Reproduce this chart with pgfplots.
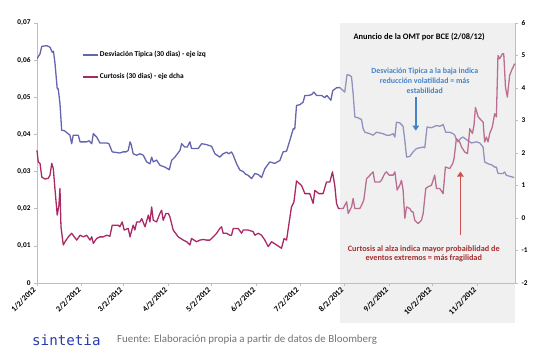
\documentclass[border=0pt]{standalone}
\usepackage{pgfplots}
\pgfplotsset{compat=1.18}
\usepackage{pgfplotstable}
\usetikzlibrary{arrows.meta}
\usepackage{fontspec}
\setmainfont{Carlito}
\newfontfamily\logofont{DejaVu Sans Mono}
\definecolor{serblue}{RGB}{100,100,175}
\definecolor{serred}{RGB}{170,40,100}
\definecolor{boxgray}{RGB}{217,217,217}
\definecolor{annblue}{RGB}{70,130,200}
\definecolor{anntext}{RGB}{165,45,45}
\definecolor{annarrow}{RGB}{205,80,80}
\definecolor{axgray}{RGB}{190,190,190}
\definecolor{logoblue}{RGB}{40,60,170}

\pgfplotstableread{
day val
0 0.0604
2.1 0.0617
3.3 0.0637
6.7 0.0639
9.0 0.0635
10.6 0.0621
11.4 0.0624
12.5 0.0590
14.0 0.0523
14.7 0.0523
15.9 0.0483
17.1 0.0411
19.0 0.0410
22.8 0.0398
24.0 0.0375
25.1 0.0398
28.6 0.0398
29.8 0.0380
34.4 0.0380
36.0 0.0383
37.9 0.0375
39.0 0.0402
41.3 0.0393
43.6 0.0377
48.2 0.0377
49.8 0.0375
52.1 0.0353
57.4 0.0350
59.5 0.0353
61.6 0.0353
63.2 0.0357
64.4 0.0380
65.1 0.0375
66.6 0.0348
69.0 0.0344
71.3 0.0348
73.6 0.0344
75.9 0.0326
78.2 0.0321
79.4 0.0339
80.5 0.0326
82.8 0.0331
85.1 0.0317
88.6 0.0312
91.6 0.0305
93.2 0.0330
95.5 0.0339
99.0 0.0357
100.1 0.0375
102.4 0.0366
104.0 0.0366
105.9 0.0380
107.0 0.0362
111.6 0.0362
114.0 0.0375
117.0 0.0373
120.9 0.0368
123.2 0.0348
126.6 0.0339
128.9 0.0348
131.3 0.0352
132.9 0.0348
134.7 0.0353
135.9 0.0344
138.2 0.0321
140.5 0.0304
142.8 0.0300
144.4 0.0293
146.2 0.0290
148.6 0.0281
150.9 0.0295
153.2 0.0292
155.5 0.0284
157.8 0.0308
161.2 0.0326
164.7 0.0322
168.2 0.0330
170.4 0.0353
172.8 0.0355
175.1 0.0384
177.4 0.0415
178.5 0.0415
179.7 0.0478
182.0 0.0480
184.3 0.0487
185.5 0.0505
187.8 0.0505
190.1 0.0507
191.7 0.0514
193.6 0.0505
197.0 0.0505
199.3 0.0499
200.7 0.0505
203.5 0.0492
204.8 0.0518
207.6 0.0526
209.7 0.0526
213.1 0.0514
214.7 0.0561
216.6 0.0559
217.8 0.0555
218.9 0.0510
220.1 0.0447
222.1 0.0445
224.7 0.0440
225.8 0.0416
227.0 0.0406
230.4 0.0402
232.7 0.0398
235.1 0.0406
237.4 0.0404
239.7 0.0402
242.0 0.0398
244.3 0.0398
246.6 0.0402
247.8 0.0393
248.9 0.0433
251.2 0.0431
253.5 0.0422
254.7 0.0384
255.9 0.0339
258.2 0.0341
260.4 0.0353
262.8 0.0362
265.1 0.0364
267.4 0.0366
268.5 0.0364
270.1 0.0420
273.2 0.0418
276.6 0.0424
278.9 0.0422
280.1 0.0424
281.2 0.0427
283.0 0.0406
285.8 0.0406
288.1 0.0402
289.3 0.0398
290.4 0.0386
291.6 0.0380
293.2 0.0389
295.0 0.0393
297.4 0.0386
299.7 0.0380
300.8 0.0377
304.3 0.0380
306.6 0.0377
308.9 0.0366
310.0 0.0326
312.3 0.0321
314.9 0.0318
316.9 0.0312
318.1 0.0312
319.2 0.0295
322.7 0.0295
323.9 0.0299
325.0 0.0290
328.5 0.0286
330.5 0.0284
}\bluedata

\pgfplotstableread{
day val
0 2.08
0.9 1.72
2.1 1.68
3.3 1.26
5.5 1.20
7.8 1.22
9.0 1.32
10.2 1.68
11.3 1.52
12.5 0.86
14.0 0.09
15.2 0.40
15.9 0.91
16.6 -0.27
18.2 -0.83
19.4 -0.73
21.7 -0.58
24.0 -0.47
27.5 -0.68
29.8 -0.53
32.1 -0.58
34.4 -0.53
36.7 -0.68
37.9 -0.58
39.0 -0.78
41.3 -0.63
43.6 -0.58
45.9 -0.58
48.2 -0.53
50.5 -0.56
52.1 -0.22
56.3 -0.22
57.4 -0.27
59.0 -0.12
60.4 -0.37
63.2 -0.32
64.4 -0.58
66.6 -0.22
67.8 -0.37
69.0 -0.12
71.3 -0.12
72.5 -0.02
74.8 -0.27
77.1 0.09
78.2 -0.12
79.4 0.34
80.5 -0.07
82.8 -0.12
85.1 0.14
86.3 0.24
87.4 -0.07
89.3 0.14
90.9 0.14
92.0 0.04
94.3 -0.37
97.8 -0.58
101.3 -0.68
103.6 -0.73
105.9 -0.83
107.0 -0.63
110.5 -0.73
112.8 -0.68
115.1 -0.66
117.4 -0.68
119.7 -0.68
122.0 -0.58
124.4 -0.47
126.6 -0.32
127.8 -0.27
128.9 -0.47
131.3 -0.47
133.6 -0.53
134.7 -0.53
135.9 -0.32
139.3 -0.32
141.7 -0.47
142.8 -0.37
146.2 -0.37
149.7 -0.42
150.9 -0.53
153.2 -0.47
155.5 -0.53
157.8 -0.68
160.1 -0.88
162.4 -0.73
165.9 -0.83
169.3 -0.93
171.1 -0.63
172.8 -0.68
176.2 0.34
177.9 0.49
179.7 1.14
183.2 1.00
185.5 0.75
188.9 0.75
191.2 0.45
192.4 0.85
195.2 0.75
198.1 0.75
200.5 1.11
202.8 1.11
204.6 1.42
206.2 1.00
207.4 0.45
208.8 0.29
212.0 0.29
214.4 0.50
215.5 0.14
217.8 0.34
218.9 0.60
220.1 0.29
223.5 0.29
224.7 0.39
226.3 0.55
228.2 1.21
230.4 1.31
232.7 1.42
233.9 1.11
237.4 1.11
238.5 1.16
240.8 1.37
242.0 1.42
243.8 1.32
246.6 1.32
247.8 1.42
249.4 0.86
251.2 1.01
252.4 1.16
253.5 0.86
254.7 -0.01
255.9 0.34
258.2 0.29
259.4 0.19
260.4 0.19
261.6 -0.07
263.9 -0.17
266.2 -0.07
267.4 0.14
269.2 0.91
270.8 0.96
273.2 1.01
275.4 1.32
276.6 0.91
278.9 0.91
281.2 0.75
282.8 1.57
285.8 1.52
287.9 1.68
288.8 1.83
290.4 2.44
292.7 2.34
293.9 2.19
296.2 2.03
298.1 1.98
299.7 2.75
301.5 2.60
302.6 2.85
303.6 3.40
305.5 3.11
307.8 3.00
308.9 2.95
310.0 2.34
311.2 2.49
312.3 2.34
313.5 2.60
315.3 2.80
316.9 3.21
318.1 3.11
319.2 5.00
320.4 4.90
322.2 5.05
323.2 5.05
324.4 4.03
325.7 3.72
327.3 4.39
328.7 4.55
330.8 4.75
}\reddata

\pgfplotsset{common/.style={
  scale only axis, width=478pt, height=260pt,
  at={(37pt,76pt)}, anchor=south west,
  xmin=0, xmax=331,
  ticklabel style={font=\fontsize{7.3}{8}\selectfont\bfseries},
  /pgf/number format/assume math mode=true,
  scaled y ticks=false, scaled x ticks=false,
  axis line style={axgray, line width=0.8pt},
  tick style={axgray, line width=0.6pt},
  tick align=outside, major tick length=3pt,
}}

\begin{document}
\begin{tikzpicture}
\useasboundingbox (0,0) rectangle (545pt,359pt);

% left axis: standard deviation
\begin{axis}[common,
  ymin=0, ymax=0.07,
  axis x line=none, axis y line*=left,
  ytick={0,0.01,0.02,0.03,0.04,0.05,0.06,0.07},
  yticklabels={0,{0,01},{0,02},{0,03},{0,04},{0,05},{0,06},{0,07}},
]
\addplot[serblue, line width=1.3pt, line join=round] table[x=day,y=val] {\bluedata};
\end{axis}

% right axis: kurtosis
\begin{axis}[common,
  ymin=-2, ymax=6,
  axis x line=none, axis y line*=right,
  ytick={-2,-1,0,1,2,3,4,5,6},
  yticklabels={-2,-1,0,1,2,3,4,5,6},
  clip=false,
  legend style={at={(0.094,0.897)}, anchor=north west, draw=none, fill=none,
    font=\fontsize{7.4}{8}\selectfont\bfseries, row sep=12pt, inner sep=0pt,
    nodes={inner sep=1.5pt}},
  legend cell align=left,
  legend image code/.code={\draw[#1] (0pt,0pt) -- (15pt,0pt);},
]
\addlegendimage{serblue, line width=1.3pt}
\addlegendentry{Desviación Tipica (30 dias) - eje izq}
\addplot[serred, line width=1.3pt, line join=round] table[x=day,y=val] {\reddata};
\addlegendentry{Curtosis (30 dias) - eje dcha}
\fill[boxgray, opacity=0.4] (axis cs:209.7,-3.23) rectangle (axis cs:331,6);
\end{axis}

% x axis and annotations
\begin{axis}[common,
  ymin=0, ymax=0.07,
  axis y line=none, axis x line*=bottom,
  xtick={0,31,60,91,121,152,182,213,244,274,305},
  xticklabels={1/2/2012,2/2/2012,3/2/2012,4/2/2012,5/2/2012,6/2/2012,7/2/2012,8/2/2012,9/2/2012,10/2/2012,11/2/2012},
  xticklabel style={rotate=45, anchor=east, font=\fontsize{8}{9}\selectfont\bfseries},
  clip=false,
]
\node[font=\fontsize{8.4}{10}\selectfont\bfseries] at (axis cs:264.6,0.0663) {Anuncio de la OMT por BCE (2/08/12)};
\node[text=annblue, align=center, font=\fontsize{7.9}{9.7}\selectfont\bfseries] at (axis cs:268.5,0.0544)
  {Desviación Tipica a la baja indica\\reducción volatilidad = más\\estabilidad};
\draw[annblue, line width=1.5pt, -{Triangle[length=5pt,width=6.5pt]}] (axis cs:262.3,0.0500) -- (axis cs:262.3,0.0410);
\draw[annarrow, line width=1.5pt, -{Triangle[length=5pt,width=6.5pt]}] (axis cs:293.2,0.0129) -- (axis cs:293.2,0.0300);
\node[text=anntext, align=center, font=\fontsize{8.2}{9.5}\selectfont\bfseries] at (axis cs:267.8,0.0078)
  {Curtosis al alza indica mayor probaiblidad de\\eventos extremos = más fragilidad};
\end{axis}

% footer
\node[anchor=west, inner sep=0pt, text=logoblue, font=\logofont\fontsize{14.2}{14}\selectfont] at (32pt,19pt) {sintetia};
\node[anchor=west, inner sep=0pt, text=black!55, font=\fontsize{10.9}{12}\selectfont] at (117pt,19pt) {Fuente: Elaboración propia a partir de datos de Bloomberg};
\end{tikzpicture}
\end{document}
